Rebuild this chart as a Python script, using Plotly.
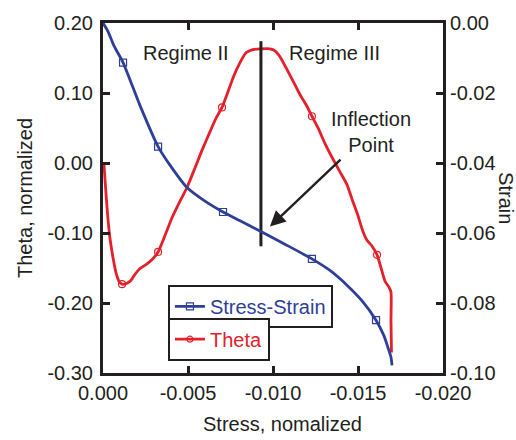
import plotly.graph_objects as go

# ---- data ----
stress_ss = [0, -0.00029, -0.00065, -0.00118, -0.00218, -0.00324, -0.00394, -0.00494, -0.0060,
             -0.00706, -0.00818, -0.00929, -0.0107, -0.01229, -0.01335, -0.01435, -0.01524,
             -0.01606, -0.01653, -0.01676, -0.01694, -0.0170]
strain_ss = [0, -0.00237, -0.00656, -0.0113, -0.0236, -0.0353, -0.0406, -0.0470, -0.0509,
             -0.0540, -0.0568, -0.0596, -0.0632, -0.0674, -0.0707, -0.0749, -0.0794,
             -0.0849, -0.0894, -0.0927, -0.0955, -0.0978]
stress_ss_marks = [-0.00118, -0.00324, -0.00706, -0.01229, -0.01606]
strain_ss_marks = [-0.0113, -0.0353, -0.0540, -0.0674, -0.0849]

stress_th = [-0.00006, -0.00018, -0.00029, -0.00041, -0.00059, -0.00076, -0.00094, -0.00112,
             -0.00141, -0.00165, -0.00188, -0.00218, -0.00253, -0.00288, -0.00324, -0.00365,
             -0.00406, -0.00453, -0.00494, -0.00541, -0.00582, -0.00629, -0.00665, -0.00700,
             -0.00735, -0.00771, -0.00806, -0.00841, -0.00876, -0.00929, -0.00982, -0.01012,
             -0.01041, -0.01076, -0.01118, -0.01159, -0.01194, -0.01229, -0.01265, -0.01306,
             -0.01347, -0.01394, -0.01435, -0.01465, -0.0150, -0.01529, -0.01553, -0.01582,
             -0.01612, -0.01635, -0.01659, -0.01682, -0.01694, -0.01694, -0.01697]
theta = [-0.0029, -0.0448, -0.0796, -0.1075, -0.1354, -0.1563, -0.1689, -0.1731,
         -0.1717, -0.1675, -0.1591, -0.1508, -0.1452, -0.1382, -0.1271, -0.1033,
         -0.0783, -0.0545, -0.0350, -0.0071, 0.0180, 0.0445, 0.0640, 0.0794,
         0.1017, 0.1254, 0.1435, 0.1575, 0.1617, 0.1630, 0.1630, 0.1603,
         0.1519, 0.1365, 0.1170, 0.0975, 0.0835, 0.0668, 0.0501, 0.0278,
         0.0082, -0.0127, -0.0308, -0.0517, -0.0754, -0.0977, -0.1103, -0.1186,
         -0.1312, -0.1494, -0.1689, -0.1773, -0.1843, -0.2261, -0.2707]
stress_th_marks = [-0.00112, -0.00324, -0.00700, -0.01229, -0.01612]
theta_marks = [-0.1731, -0.1271, 0.0794, 0.0668, -0.1312]

x_ticks = [0, -0.005, -0.010, -0.015, -0.020]
x_ticktext = ["0.000", "-0.005", "-0.010", "-0.015", "-0.020"]
y_ticks = [0.20, 0.10, 0.00, -0.10, -0.20, -0.30]
y_ticktext = ["0.20", "0.10", "0.00", "-0.10", "-0.20", "-0.30"]
y2_ticks = [0.00, -0.02, -0.04, -0.06, -0.08, -0.10]
y2_ticktext = ["0.00", "-0.02", "-0.04", "-0.06", "-0.08", "-0.10"]

# inflection marker line and arrow (data coordinates)
infl_stress = -0.00929
infl_theta_top, infl_theta_bot = 0.174, -0.119
arrow_head = (-0.00982, -0.0908)
arrow_tail = (-0.01406, 0.0068)

BLUE = "#2e3f98"
RED = "#e3202b"
INK = "#231f20"
FONT = "Liberation Sans, Arial, sans-serif"
FS = 20

fig = go.Figure()

fig.add_trace(go.Scatter(x=stress_ss, y=strain_ss, yaxis="y2", mode="lines",
                         line=dict(color=BLUE, width=2.8, shape="spline", smoothing=0.7),
                         showlegend=False, hoverinfo="skip"))
fig.add_trace(go.Scatter(x=stress_ss_marks, y=strain_ss_marks, yaxis="y2", mode="markers",
                         marker=dict(symbol="square-open", size=7, color=BLUE, line=dict(width=1.2)),
                         showlegend=False))
fig.add_trace(go.Scatter(x=stress_th, y=theta, mode="lines",
                         line=dict(color=RED, width=2.8, shape="spline", smoothing=0.6),
                         showlegend=False, hoverinfo="skip"))
fig.add_trace(go.Scatter(x=stress_th_marks, y=theta_marks, mode="markers",
                         marker=dict(symbol="circle-open", size=7, color=RED, line=dict(width=1.2)),
                         showlegend=False))
# legend entries
fig.add_trace(go.Scatter(x=[None], y=[None], mode="lines+markers", name="Stress-Strain",
                         line=dict(color=BLUE, width=2.8),
                         marker=dict(symbol="square-open", size=7, color=BLUE, line=dict(width=1.2)),
                         legend="legend"))
fig.add_trace(go.Scatter(x=[None], y=[None], mode="lines+markers", name="Theta",
                         line=dict(color=RED, width=2.8),
                         marker=dict(symbol="circle-open", size=6, color=RED, line=dict(width=1.2)),
                         legend="legend2"))

# vertical line
fig.add_trace(go.Scatter(x=[infl_stress, infl_stress], y=[infl_theta_top, infl_theta_bot],
                         mode="lines", line=dict(color=INK, width=3), showlegend=False,
                         hoverinfo="skip"))

fig.add_annotation(x=arrow_head[0], y=arrow_head[1], ax=arrow_tail[0], ay=arrow_tail[1],
                   xref="x", yref="y", axref="x", ayref="y", text="", showarrow=True,
                   arrowhead=2, arrowsize=1.3, arrowwidth=2.4, arrowcolor=INK)

txt = dict(family=FONT, size=FS, color=INK)
fig.add_annotation(x=-0.00488, y=0.1575, text="Regime II", showarrow=False, font=txt,
                   xanchor="center", yanchor="middle")
fig.add_annotation(x=-0.01359, y=0.1575, text="Regime III", showarrow=False, font=txt,
                   xanchor="center", yanchor="middle")
fig.add_annotation(x=-0.01576, y=0.0445, text="Inflection<br>Point", showarrow=False, font=txt,
                   xanchor="center", yanchor="middle")

# axis titles
fig.add_annotation(xref="paper", yref="paper", x=-0.2294, y=0.5, text="Theta, normalized",
                   textangle=-90, showarrow=False, font=txt, xanchor="center", yanchor="middle")
fig.add_annotation(xref="paper", yref="paper", x=1.185, y=0.5, text="Strain",
                   textangle=90, showarrow=False, font=txt, xanchor="center", yanchor="middle")
fig.add_annotation(xref="paper", yref="paper", x=0.5265, y=-0.145, text="Stress, nomalized",
                   showarrow=False, font=txt, xanchor="center", yanchor="middle")

axis_common = dict(showgrid=False, zeroline=False, showline=True, linecolor=INK, linewidth=3,
                   ticks="inside", ticklen=7, tickwidth=3, tickcolor=INK,
                   tickfont=dict(family=FONT, size=FS, color=INK))

fig.update_layout(
    width=516, height=440,
    margin=dict(l=103, r=73, t=15, b=67),
    paper_bgcolor="white", plot_bgcolor="white",
    font=dict(family=FONT, size=FS, color=INK),
    xaxis=dict(range=[0, -0.020], tickvals=x_ticks, ticktext=x_ticktext, mirror="ticks",
               **axis_common),
    yaxis=dict(range=[-0.30, 0.20], tickvals=y_ticks, ticktext=y_ticktext,
               ticklabelstandoff=3, **axis_common),
    yaxis2=dict(range=[-0.10, 0.00], tickvals=y2_ticks, ticktext=y2_ticktext, overlaying="y",
                side="right", **axis_common),
    legend=dict(x=0.191, y=0.252, xanchor="left", yanchor="top", bordercolor=INK, borderwidth=2,
                bgcolor="white", font=dict(family=FONT, size=FS, color=BLUE),
                tracegroupgap=0, itemwidth=30),
    legend2=dict(x=0.191, y=0.158, xanchor="left", yanchor="top", bordercolor=INK, borderwidth=2,
                 bgcolor="white", font=dict(family=FONT, size=FS, color=RED),
                 tracegroupgap=0, itemwidth=30),
    showlegend=True,
)

fig.write_html("out.html")
